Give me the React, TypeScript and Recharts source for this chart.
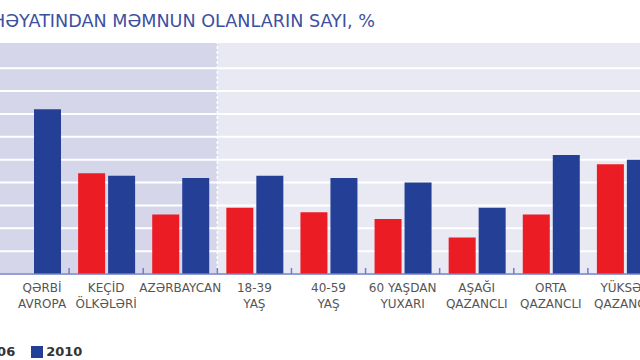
import React from 'react'
import {
  BarChart,
  Bar,
  XAxis,
  YAxis,
  CartesianGrid,
  ReferenceArea,
  ReferenceLine,
} from 'recharts'

// categories (line breaks split the axis labels)
const categories = [
  'QƏRBİ\nAVROPA',
  'KEÇİD\nÖLKƏLƏRİ',
  'AZƏRBAYCAN',
  '18-39\nYAŞ',
  '40-59\nYAŞ',
  '60 YAŞDAN\nYUXARI',
  'AŞAĞI\nQAZANCLI',
  'ORTA\nQAZANCLI',
  'YÜKSƏK\nQAZANCLI',
]
const values2006 = [null, 44, 26, 29, 27, 24, 16, 26, 48]
const values2010 = [72, 43, 42, 43, 42, 40, 29, 52, 50]
const seriesNames = ['2006', '2010']
const yTicks = [0, 10, 20, 30, 40, 50, 60, 70, 80, 90]

const title = 'HƏYATINDAN MƏMNUN OLANLARIN SAYI, %'

const RED = '#ec1c24'
const BLUE = '#233f96'
const AXIS = '#6d7fc6'
const FONT = '"DejaVu Sans", Verdana, sans-serif'

const chartData = categories.map((name, i) => ({
  name,
  y2006: values2006[i],
  y2010: values2010[i],
}))

function CategoryTick(props: any) {
  const { x, y, payload, index } = props
  const lines = String(payload.value).split('\n')
  const half = payload.offset || 0
  const shift = index === 0 ? 10 : 0
  return (
    <g>
      <line x1={x - half} x2={x - half} y1={y} y2={y - 6} stroke={AXIS} strokeWidth={1.5} />
      <text
        x={x + shift}
        y={y}
        textAnchor="middle"
        fill="#555"
        fontSize={12}
        fontFamily={FONT}
      >
        {lines.map((l, i) => (
          <tspan key={i} x={x + shift} dy={i === 0 ? 18 : 16}>
            {l}
          </tspan>
        ))}
      </text>
    </g>
  )
}

export default function App() {
  const colors = [RED, BLUE]
  return (
    <div
      style={{
        position: 'fixed',
        left: 0,
        top: 0,
        width: 640,
        height: 360,
        overflow: 'hidden',
        background: '#fff',
        fontFamily: FONT,
      }}
    >
      <div
        style={{
          position: 'absolute',
          left: -8,
          top: 11,
          fontSize: 17.6,
          lineHeight: '20px',
          color: '#3c50a0',
          whiteSpace: 'nowrap',
        }}
      >
        {title}
      </div>

      <div style={{ position: 'absolute', left: -60, top: 0 }}>
        <BarChart
          width={760}
          height={360}
          data={chartData}
          margin={{ top: 43, right: 38, bottom: 36, left: 55 }}
          barSize={27}
          barGap={3}
        >
          <ReferenceArea
            x1={categories[0]}
            x2={categories[categories.length - 1]}
            fill="#e9e9f4"
            fillOpacity={1}
            stroke="none"
            zIndex={-300}
          />
          <ReferenceArea
            x1={categories[0]}
            x2={categories[2]}
            fill="#d5d6ea"
            fillOpacity={1}
            stroke="none"
            zIndex={-250}
          />
          <CartesianGrid
            vertical={false}
            stroke="#fff"
            strokeWidth={2}
            horizontalValues={yTicks}
          />
          <ReferenceLine
            x={categories[3]}
            position="start"
            stroke="#fff"
            strokeWidth={1.5}
            strokeDasharray="3 2"
          />
          <YAxis hide domain={[0, 101]} ticks={yTicks} interval={0} />
          <XAxis
            dataKey="name"
            interval={0}
            height={50}
            tickSize={0}
            tickMargin={0}
            stroke={AXIS}
            strokeWidth={1.5}
            tick={<CategoryTick />}
          />
          <Bar dataKey="y2006" name={seriesNames[0]} fill={RED} isAnimationActive={false} />
          <Bar dataKey="y2010" name={seriesNames[1]} fill={BLUE} isAnimationActive={false} />
        </BarChart>
      </div>

      <div
        style={{
          position: 'absolute',
          left: -36,
          top: 344,
          display: 'flex',
          alignItems: 'center',
          fontSize: 13,
          fontWeight: 'bold',
          color: '#333',
        }}
      >
        {seriesNames.map((s, i) => (
          <div key={s} style={{ display: 'flex', alignItems: 'center', marginRight: 16 }}>
            <span
              style={{
                display: 'inline-block',
                width: 12,
                height: 12,
                background: colors[i],
                marginRight: 3,
              }}
            />
            <span>{s}</span>
          </div>
        ))}
      </div>
    </div>
  )
}
